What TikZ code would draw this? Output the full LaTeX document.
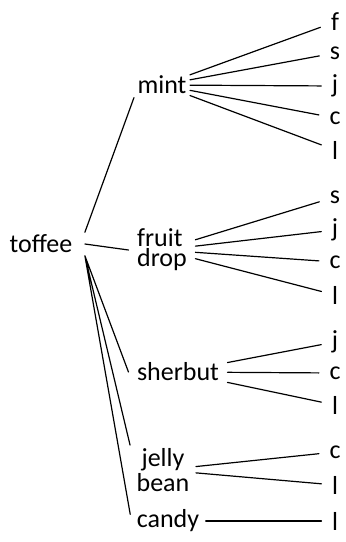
\documentclass[tikz,border=0pt]{standalone}
\usepackage{fontspec}
\setmainfont{Carlito}
\begin{document}
\begin{tikzpicture}[x=0.5pt, y=-0.5pt, line join=round, line cap=round, line width=0.6pt,
	every node/.style={inner sep=1.5pt, font=\fontsize{13}{10}\selectfont, align=center},
	leaf/.style={inner xsep=5pt}]
			\useasboundingbox (0,0) rectangle (345,542);
			\node[inner xsep=6pt] (toffee) at (41,244) {toffee};
			\node (mint) at (162,85) {mint};
			\node[align=left, inner xsep=4pt] (fruit) at (162,250) {fruit\\drop};
			\node[inner xsep=4pt] (sherbut) at (178,372) {sherbut};
			\node[inner xsep=3pt] (jelly) at (163,470) {jelly\\bean};
			\node[inner xsep=3pt] (candy) at (168,521) {candy};
			\node[leaf] (mf) at (335,22) {f};
			\node[leaf] (ms) at (335,53) {s};
			\node[leaf] (mj) at (335,86) {j};
			\node[leaf] (mc) at (335,118) {c};
			\node[leaf] (ml) at (335,150) {l};
			\node[leaf] (fs) at (335,197) {s};
			\node[leaf] (fj) at (335,230) {j};
			\node[leaf] (fc) at (335,262) {c};
			\node[leaf] (fl) at (335,295) {l};
			\node[leaf] (sj) at (335,342) {j};
			\node[leaf] (sc) at (335,373) {c};
			\node[leaf] (sl) at (335,405) {l};
			\node[leaf] (jc) at (335,452) {c};
			\node[leaf] (jl) at (335,485) {l};
			\node[leaf] (cl) at (335,521) {l};
			\draw (toffee.15) -- (mint.south west)  (toffee.east) -- (fruit.west);
			\draw (toffee.-15) -- (sherbut.west)  (toffee.-15) -- (jelly.north west)  (toffee.-15) -- (candy.170);
			\draw (mint) -- (mf)  (mint) -- (ms)  (mint) -- (mj)  (mint) -- (mc)  (mint) -- (ml);
			\draw (fruit) -- (fs)  (fruit) -- (fj)  (fruit) -- (fc)  (fruit) -- (fl);
			\draw (sherbut) -- (sj)  (sherbut) -- (sc)  (sherbut) -- (sl);
			\draw (jelly) -- (jc)  (jelly) -- (jl);
			\draw (candy) -- (cl);
		\end{tikzpicture}
\end{document}
